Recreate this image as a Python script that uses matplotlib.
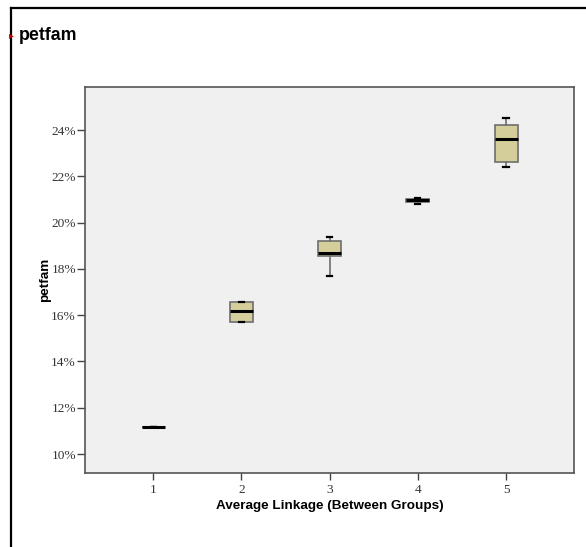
import matplotlib
matplotlib.use("Agg")
import matplotlib.pyplot as plt
from matplotlib.lines import Line2D
from matplotlib.ticker import FuncFormatter

# cluster membership (Average Linkage) and petfam box statistics, in percent
clusters = [1, 2, 3, 4, 5]
whislo = [11.15, 15.72, 17.70, 20.80, 22.40]
q1 = [11.15, 15.72, 18.57, 20.91, 22.62]
med = [11.15, 16.17, 18.67, 20.96, 23.61]
q3 = [11.15, 16.58, 19.19, 21.00, 24.22]
whishi = [11.15, 16.58, 19.39, 21.08, 24.51]

yticks = [10, 12, 14, 16, 18, 20, 22, 24]

stats = []
for i in range(len(clusters)):
    stats.append(dict(whislo=whislo[i], q1=q1[i], med=med[i], q3=q3[i],
                      whishi=whishi[i], fliers=[], label=str(clusters[i])))

fig = plt.figure(figsize=(5.86, 5.47), dpi=100)
fig.patch.set_facecolor("white")

# frame of the output pane
fig.add_artist(Line2D([11/586, 11/586], [0, 1 - 8/547], color="black", lw=1.6,
                      transform=fig.transFigure))
fig.add_artist(Line2D([11/586, 1], [1 - 8/547, 1 - 8/547], color="black", lw=1.6,
                      transform=fig.transFigure))
fig.text(9/586, 1 - 35/547, "\u25b8", color="#d00000", fontsize=7, va="center",
         ha="left", family="DejaVu Sans")
fig.text(19/586, 1 - 35/547, "petfam", fontsize=12.8, fontweight="bold",
         va="center", ha="left", family="Liberation Sans")

ax = fig.add_axes([85/586, 1 - 473/547, (574 - 85)/586, (473 - 87)/547])
ax.set_facecolor("#f0f0f0")

ax.bxp(stats, positions=clusters, widths=0.26, patch_artist=True,
       showfliers=False,
       boxprops=dict(facecolor="#d3ce9a", edgecolor="#6e6e6e", linewidth=1.2),
       medianprops=dict(color="black", linewidth=2.2),
       whiskerprops=dict(color="#6e6e6e", linewidth=1.2),
       capprops=dict(color="black", linewidth=1.6),
       capwidths=0.06)

ax.set_xlim(0.227, 5.77)
ax.set_ylim(9.18, 25.86)
ax.set_yticks(yticks)
ax.yaxis.set_major_formatter(FuncFormatter(lambda v, p: "%d%%" % v))
ax.set_xticks(clusters)
ax.set_xticklabels([str(c) for c in clusters])

for lbl in ax.get_xticklabels() + ax.get_yticklabels():
    lbl.set_family("Liberation Serif")
    lbl.set_fontsize(9.6)
    lbl.set_color("#333333")

ax.tick_params(direction="out", width=1, color="#444444")
ax.tick_params(axis="y", length=6, pad=0.5)
ax.tick_params(axis="x", length=5, pad=3)
for s in ax.spines.values():
    s.set_color("#555555")
    s.set_linewidth(1.2)

ax.set_xlabel("Average Linkage (Between Groups)", fontsize=9.7, fontweight="bold",
              family="Liberation Sans", labelpad=3)
ax.set_ylabel("petfam", fontsize=9.7, fontweight="bold",
              family="Liberation Sans")
ax.yaxis.set_label_coords(-0.069, 0.5)

fig.savefig("out.png", dpi=100)
